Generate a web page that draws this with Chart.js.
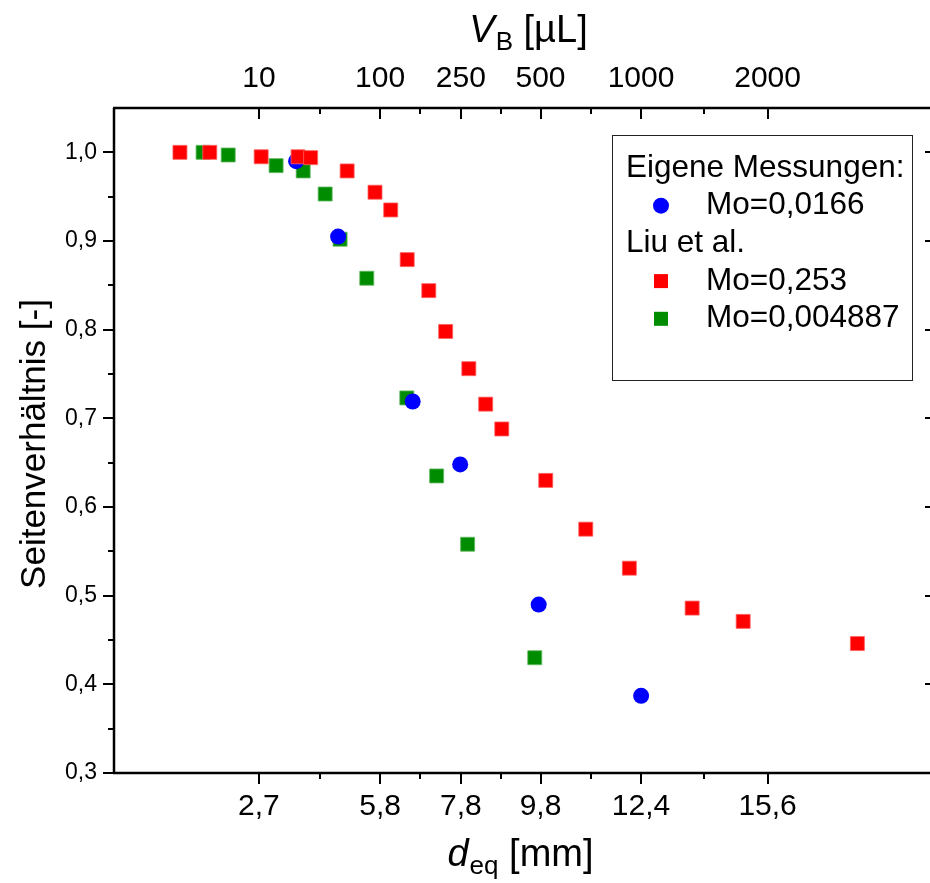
<!DOCTYPE html>
<html>
<head>
<meta charset="utf-8">
<script src="https://cdn.jsdelivr.net/npm/chart.js@4.4.1/dist/chart.umd.min.js"></script>
<style>
  html, body { margin: 0; padding: 0; background: #fff; overflow: hidden; }
  #seitenChart { display: block; }
</style>
</head>
<body>
<canvas id="seitenChart" width="930" height="883"></canvas>
<script>
// d_eq [mm] -> Seitenverhältnis [-]
const eigeneX = [3.62, 4.69, 6.59, 7.80, 9.80, 12.41];
const eigeneY = [0.990, 0.905, 0.719, 0.648, 0.490, 0.387];

const liuRotX = [0.66, 1.42, 2.73, 3.67, 3.99, 4.92, 5.63, 6.03, 6.45, 7.00,
                 7.43, 8.02, 8.45, 8.86, 9.98, 11.00, 12.11, 13.71, 15.01, 17.92];
const liuRotY = [1.000, 1.000, 0.995, 0.995, 0.994, 0.979, 0.955, 0.935, 0.879, 0.844,
                 0.798, 0.756, 0.716, 0.688, 0.630, 0.575, 0.531, 0.486, 0.471, 0.446];

const liuGruenX = [1.25, 1.89, 3.11, 3.80, 4.36, 4.74, 5.42, 6.44, 7.20, 7.99, 9.70];
const liuGruenY = [1.000, 0.997, 0.985, 0.979, 0.953, 0.902, 0.858, 0.723, 0.635, 0.558, 0.430];

// d_eq of 10, 100, 250, 500, 1000, 2000 µL drops
const tickD = [2.673, 5.759, 7.816, 9.847, 12.407, 15.632];
const tickLabelsD = ['2,7', '5,8', '7,8', '9,8', '12,4', '15,6'];
const tickLabelsV = ['10', '100', '250', '500', '1000', '2000'];
const yTicks = [0.3, 0.4, 0.5, 0.6, 0.7, 0.8, 0.9, 1.0];

const NARROW = "'Liberation Sans Narrow', 'Arial Narrow', 'Liberation Sans', Arial, sans-serif";
const REGULAR = "'Liberation Sans', Arial, sans-serif";

function toPoints(xs, ys) {
    return xs.map((x, i) => ({ x: x, y: ys[i] }));
}

// axis frame + tick marks (major and minor)
const rahmenPlugin = {
    id: 'rahmen',
    afterDraw(chart) {
        const { ctx, chartArea: a, scales } = chart;
        const xs = scales.x;
        const ys = scales.y;
        ctx.save();
        ctx.strokeStyle = '#000';
        ctx.lineWidth = 2.5;
        ctx.beginPath();
        ctx.moveTo(a.left - 1, a.top); ctx.lineTo(a.right, a.top);
        ctx.moveTo(a.left - 1, a.bottom); ctx.lineTo(a.right, a.bottom);
        ctx.moveTo(a.left, a.top); ctx.lineTo(a.left, a.bottom);
        ctx.stroke();

        ctx.lineWidth = 2;
        ctx.beginPath();
        const minorD = tickD.slice(1).map((v, i) => (v + tickD[i]) / 2);
        tickD.forEach(v => {
            const px = Math.round(xs.getPixelForValue(v));
            ctx.moveTo(px, a.bottom); ctx.lineTo(px, a.bottom + 11);
            ctx.moveTo(px, a.top); ctx.lineTo(px, a.top + 11);
        });
        minorD.forEach(v => {
            const px = Math.round(xs.getPixelForValue(v));
            ctx.moveTo(px, a.bottom); ctx.lineTo(px, a.bottom + 6);
            ctx.moveTo(px, a.top); ctx.lineTo(px, a.top + 6);
        });
        yTicks.forEach(v => {
            const py = Math.round(ys.getPixelForValue(v));
            ctx.moveTo(a.left, py); ctx.lineTo(a.left - 11, py);
            ctx.moveTo(a.right, py); ctx.lineTo(a.right - 5, py);
            if (v < 1.0) {
                const pm = Math.round(ys.getPixelForValue(v + 0.05));
                ctx.moveTo(a.left, pm); ctx.lineTo(a.left - 6, pm);
            }
        });
        ctx.stroke();
        ctx.restore();
    }
};

// axis titles with italic symbol + subscript
function drawSymbolTitle(ctx, sym, sub, rest, cx, baseY, size) {
    const fSym = 'italic ' + size + 'px ' + NARROW;
    const fSub = Math.round(size * 0.68) + 'px ' + NARROW;
    const fRest = size + 'px ' + NARROW;
    ctx.font = fSym; const w1 = ctx.measureText(sym).width;
    ctx.font = fSub; const w2 = ctx.measureText(sub).width;
    ctx.font = fRest; const w3 = ctx.measureText(rest).width;
    let x = cx - (w1 + w2 + w3) / 2;
    ctx.textAlign = 'left';
    ctx.textBaseline = 'alphabetic';
    ctx.font = fSym; ctx.fillText(sym, x, baseY); x += w1 + 1;
    ctx.font = fSub; ctx.fillText(sub, x, baseY + size * 0.22); x += w2;
    ctx.font = fRest; ctx.fillText(rest, x, baseY);
}

const titelPlugin = {
    id: 'titel',
    afterDraw(chart) {
        const { ctx, chartArea: a } = chart;
        ctx.save();
        ctx.fillStyle = '#000';
        const cx = (a.left + a.right) / 2;
        drawSymbolTitle(ctx, 'd', 'eq', ' [mm]', cx - 2, 866, 38);
        drawSymbolTitle(ctx, 'V', 'B', ' [µL]', cx + 6, 42, 38);

        ctx.translate(45, 444);
        ctx.rotate(-Math.PI / 2);
        ctx.font = '35px ' + REGULAR;
        ctx.textAlign = 'center';
        ctx.textBaseline = 'alphabetic';
        ctx.fillText('Seitenverhältnis [-]', 0, 0);
        ctx.restore();
    }
};

// legend with the two group headings
const legendePlugin = {
    id: 'legende',
    afterDraw(chart) {
        const ctx = chart.ctx;
        const ds = chart.data.datasets;
        const rows = [
            { text: 'Eigene Messungen:' },
            { text: 'Mo=0,0166', set: ds[0] },
            { text: 'Liu et al.' },
            { text: 'Mo=0,253', set: ds[1] },
            { text: 'Mo=0,004887', set: ds[2] }
        ];
        ctx.save();
        ctx.fillStyle = '#fff';
        ctx.fillRect(612, 135, 300, 245);
        ctx.strokeStyle = '#222';
        ctx.lineWidth = 1;
        ctx.strokeRect(612.5, 135.5, 300, 245);
        ctx.font = '31.5px ' + REGULAR;
        ctx.textBaseline = 'middle';
        ctx.textAlign = 'left';
        rows.forEach((r, i) => {
            const y = 168 + i * 37.7;
            ctx.fillStyle = '#000';
            if (!r.set) {
                ctx.fillText(r.text, 626, y);
                return;
            }
            ctx.fillText(r.text, 706, y);
            ctx.fillStyle = r.set.backgroundColor;
            if (r.set.pointStyle === 'circle') {
                ctx.beginPath();
                ctx.arc(661, y, 8, 0, Math.PI * 2);
                ctx.fill();
            } else {
                ctx.fillRect(654, y - 7, 14, 14);
            }
        });
        ctx.restore();
    }
};

const datasets = [
    {
        label: 'Mo=0,0166',
        data: toPoints(eigeneX, eigeneY),
        pointStyle: 'circle',
        pointRadius: 8,
        backgroundColor: '#0000ff',
        borderColor: '#0000ff',
        borderWidth: 0,
        order: 1
    },
    {
        label: 'Mo=0,253',
        data: toPoints(liuRotX, liuRotY),
        pointStyle: 'rect',
        pointRadius: 9.9,
        backgroundColor: '#ff0000',
        borderColor: '#ff6060',
        borderWidth: 0.8,
        order: 0
    },
    {
        label: 'Mo=0,004887',
        data: toPoints(liuGruenX, liuGruenY),
        pointStyle: 'rect',
        pointRadius: 9.9,
        backgroundColor: '#008c00',
        borderColor: '#60b860',
        borderWidth: 0.8,
        order: 2
    }
];

const xCommon = {
    type: 'linear',
    min: -1.02,
    max: 19.77,
    grid: { display: false },
    border: { display: false },
    afterBuildTicks: s => { s.ticks = tickD.map(v => ({ value: v })); }
};

new Chart(document.getElementById('seitenChart'), {
    type: 'scatter',
    data: { datasets: datasets },
    plugins: [rahmenPlugin, titelPlugin, legendePlugin],
    options: {
        responsive: false,
        animation: false,
        layout: { padding: 0, autoPadding: false },
        plugins: {
            legend: { display: false },
            tooltip: { enabled: false }
        },
        scales: {
            x: Object.assign({}, xCommon, {
                position: 'bottom',
                afterFit: s => { s.height = 110; s.paddingLeft = 0; s.paddingRight = 0; },
                ticks: {
                    autoSkip: false, maxRotation: 0, padding: 8, color: '#000',
                    font: { family: NARROW, size: 30 },
                    callback: (v, i) => tickLabelsD[i]
                }
            }),
            x2: Object.assign({}, xCommon, {
                position: 'top',
                afterFit: s => { s.height = 108; s.paddingLeft = 0; s.paddingRight = 0; },
                ticks: {
                    autoSkip: false, maxRotation: 0, padding: 3, color: '#000',
                    font: { family: NARROW, size: 30 },
                    callback: (v, i) => tickLabelsV[i]
                }
            }),
            y: {
                type: 'linear',
                position: 'left',
                min: 0.3,
                max: 1.05,
                grid: { display: false },
                border: { display: false },
                afterBuildTicks: s => { s.ticks = yTicks.map(v => ({ value: v })); },
                afterFit: s => { s.width = 114; },
                ticks: {
                    padding: 9, color: '#000',
                    font: { family: REGULAR, size: 23 },
                    callback: v => v.toFixed(1).replace('.', ',')
                }
            }
        }
    }
});
</script>
</body>
</html>
